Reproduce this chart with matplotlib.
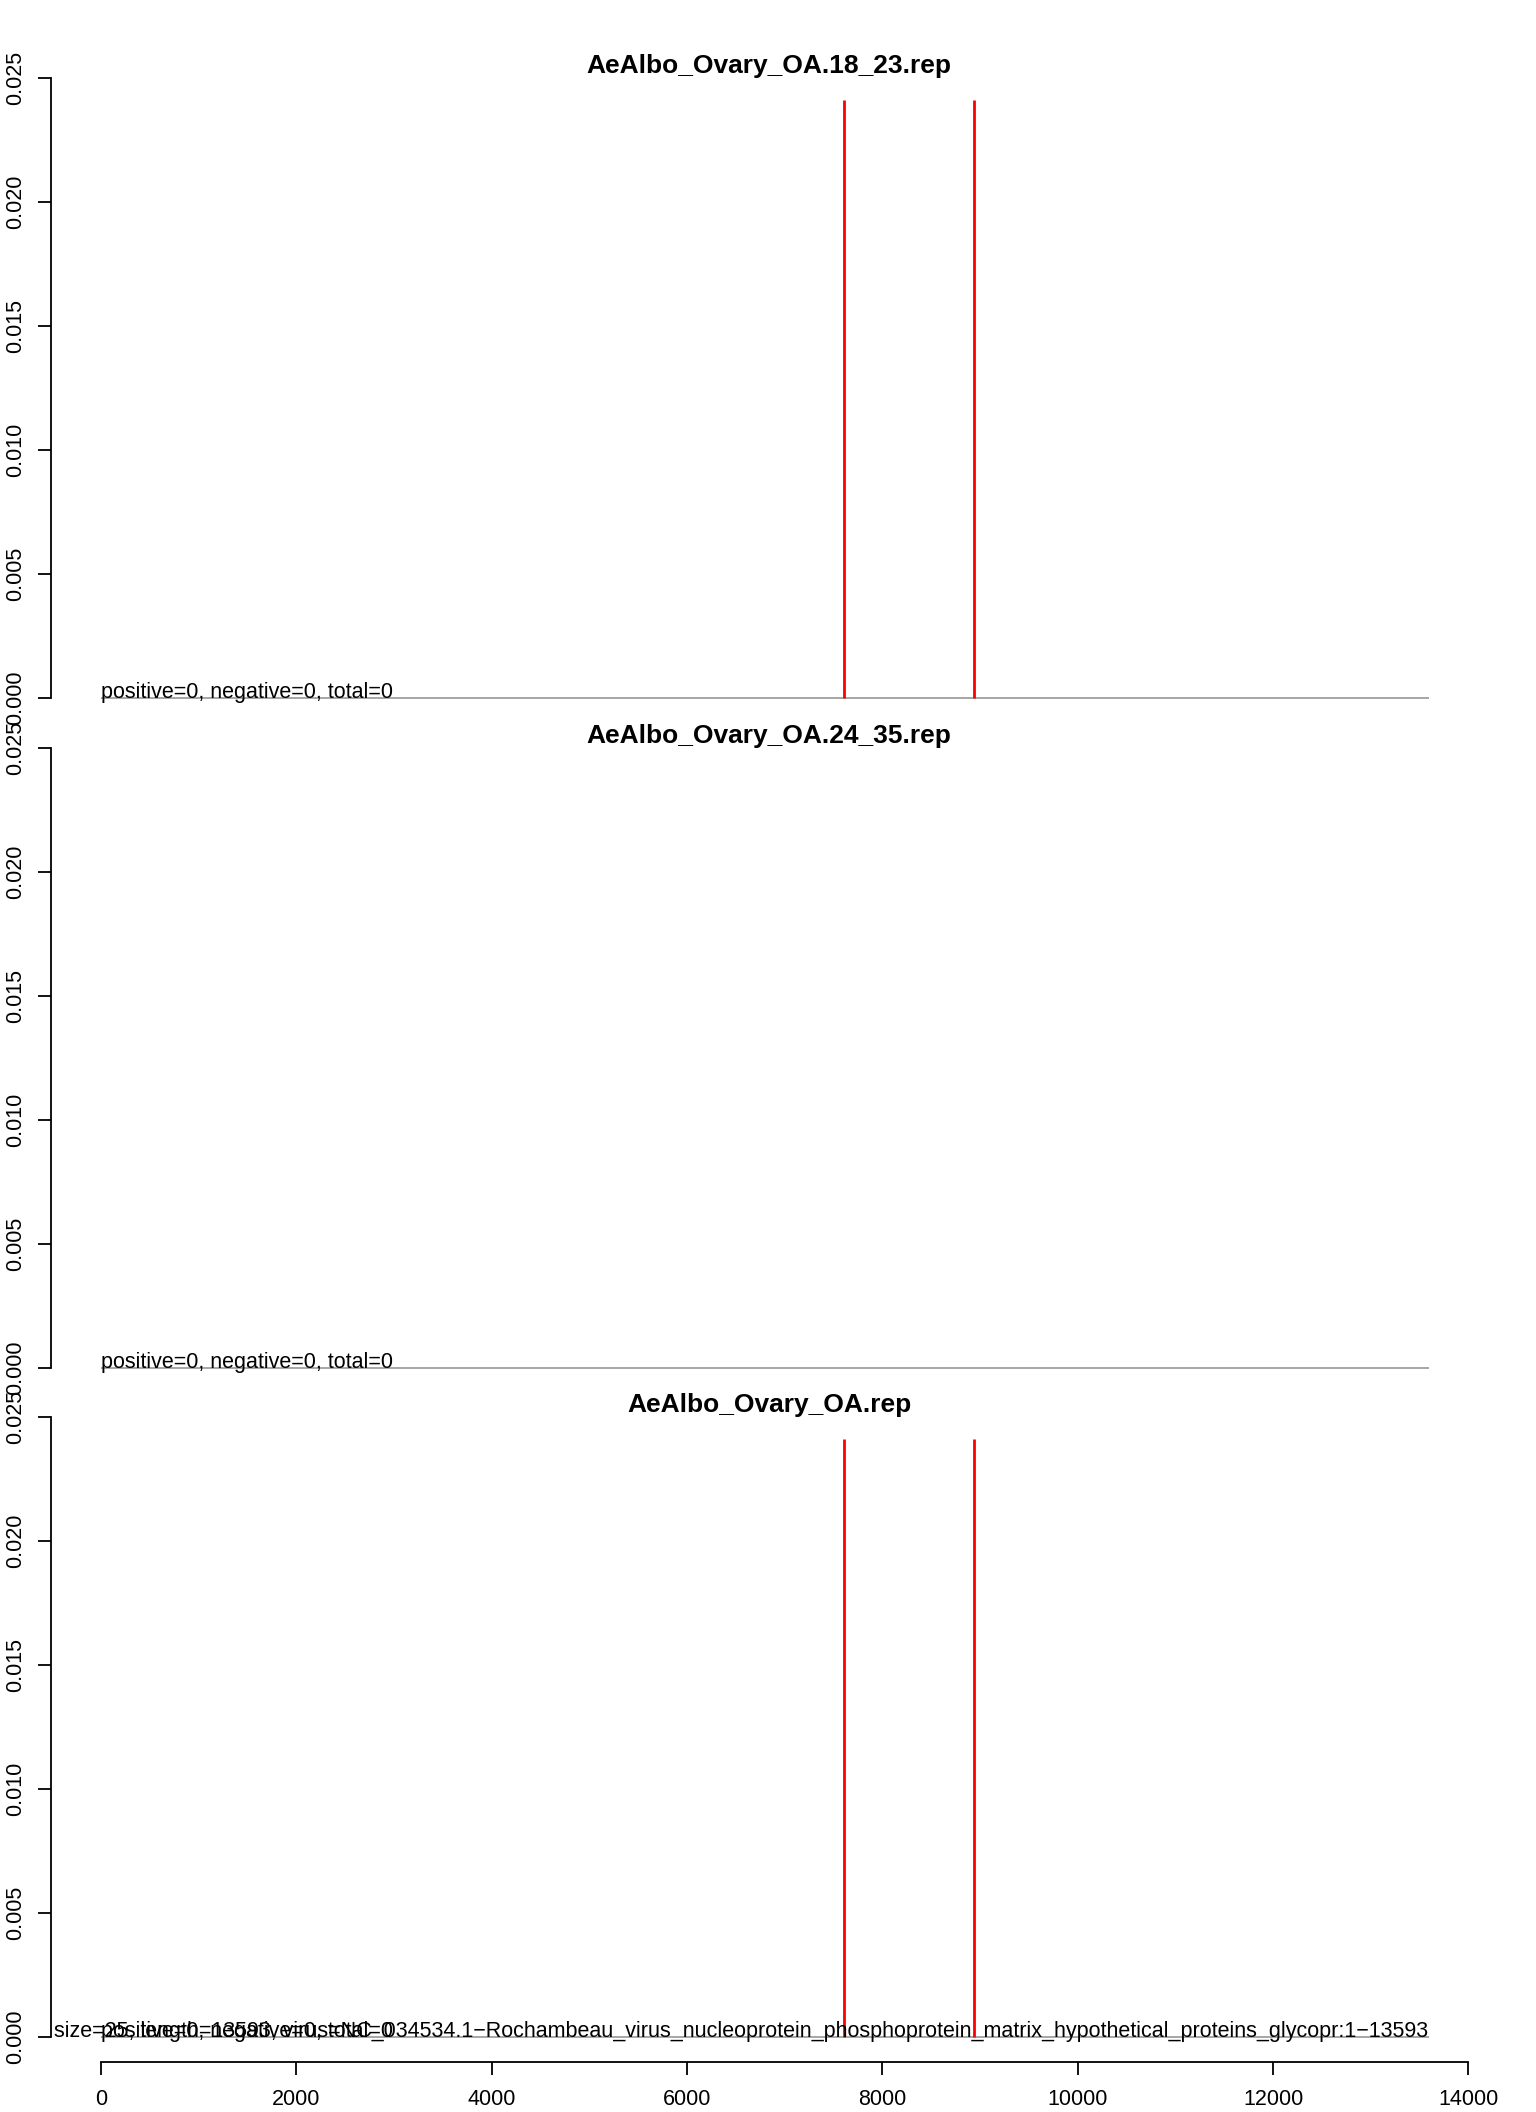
import matplotlib
matplotlib.use("Agg")
import matplotlib.pyplot as plt

# --- data ---
titles = ["AeAlbo_Ovary_OA.18_23.rep", "AeAlbo_Ovary_OA.24_35.rep", "AeAlbo_Ovary_OA.rep"]
peak_pos = [[7611, 8940], [], [7611, 8940]]
peak_val = [[0.0241, 0.0241], [], [0.0241, 0.0241]]
positive = [0, 0, 0]
negative = [0, 0, 0]
total = [0, 0, 0]
seq_len = 13593
read_size = 25
virus = "NC_034534.1\u2212Rochambeau_virus_nucleoprotein_phosphoprotein_matrix_hypothetical_proteins_glycopr"
yticks = [0.0, 0.005, 0.010, 0.015, 0.020, 0.025]
ytick_labels = ["0.000", "0.005", "0.010", "0.015", "0.020", "0.025"]
xticks = [0, 2000, 4000, 6000, 8000, 10000, 12000, 14000]
xtick_labels = [str(v) for v in xticks]

plt.rcParams['font.family'] = ['Liberation Sans', 'DejaVu Sans']

W, H, DPI = 1536, 2112, 100
fig = plt.figure(figsize=(W / DPI, H / DPI), dpi=DPI)

# panel geometry in pixels (R par(mfrow=c(3,1)) style, no gaps)
left_px, right_px = 50.7, 1487.5
top_px, panel_h = 53.3, 669.5
tick_len = 13 * 72 / DPI

for i, title in enumerate(titles):
	top = top_px + i * panel_h
	ax = fig.add_axes([left_px / W, 1 - (top + panel_h) / H, (right_px - left_px) / W, panel_h / H])
	ax.set_xlim(-515, 14196)
	ax.set_ylim(-0.001, 0.026)
	ax.patch.set_visible(False)

	for s in ["top", "right"]:
		ax.spines[s].set_visible(False)
	ax.spines["left"].set_bounds(0, 0.025)
	ax.spines["left"].set_linewidth(1.3)

	ax.set_yticks(yticks)
	ax.set_yticklabels(ytick_labels, fontsize=15.5)
	ax.tick_params(axis="y", direction="out", length=tick_len, width=1.3, pad=8)
	for lab in ax.get_yticklabels():
		lab.set_rotation(90)
		lab.set_va("center")
		lab.set_ha("right")

	if i == len(titles) - 1:
		ax.spines["bottom"].set_bounds(0, 14000)
		ax.spines["bottom"].set_linewidth(1.3)
		ax.set_xticks(xticks)
		ax.set_xticklabels(xtick_labels, fontsize=15.5)
		ax.tick_params(axis="x", direction="out", length=tick_len, width=1.3, pad=10.5)
	else:
		ax.spines["bottom"].set_visible(False)
		ax.set_xticks([])

	ax.hlines(0, 0, seq_len, color="#a6a6a6", lw=1.4)
	if peak_pos[i]:
		ax.vlines(peak_pos[i], 0, peak_val[i], color="red", lw=2)

	ax.text(0.5, 1 - 20 / panel_h, title, transform=ax.transAxes, ha="center",
			va="baseline", fontsize=19, fontweight="bold")
	ax.text(0, 0, f"positive={positive[i]}, negative={negative[i]}, total={total[i]}",
			ha="left", va="baseline", fontsize=15.5)
	if i == len(titles) - 1:
		ax.text(seq_len, 0, f"size={read_size}, length={seq_len}, virus={virus}:1\u2212{seq_len}",
				ha="right", va="baseline", fontsize=15.5)

fig.savefig("out.png", dpi=DPI)
